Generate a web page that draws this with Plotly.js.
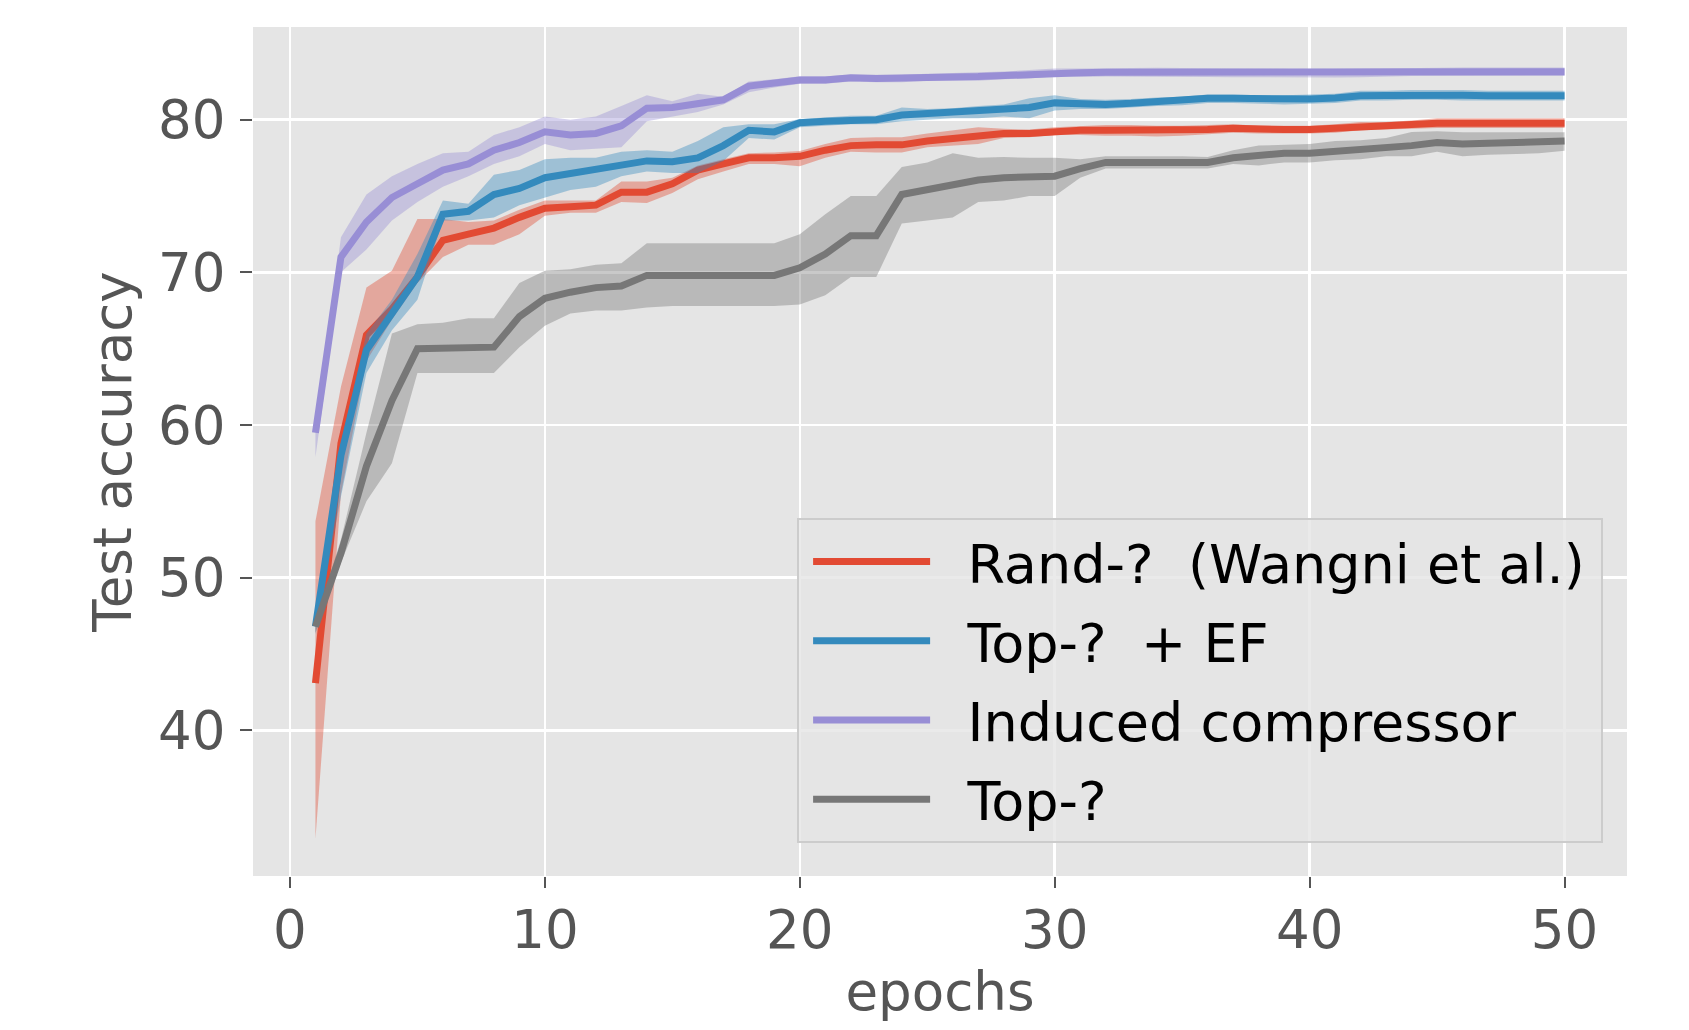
<!DOCTYPE html>
<html>
<head>
<meta charset="utf-8">
<script src="https://cdn.plot.ly/plotly-3.0.1.min.js"></script>
<style>
  html, body { margin: 0; padding: 0; background: #ffffff; }
  #chart { width: 1689px; height: 1030px; }
</style>
</head>
<body>
<div id="chart"></div>
<script>
const epochs = Array.from({length: 50}, (_, i) => i + 1);

const seriesNames = ["Rand-?\u00a0 (Wangni et al.)\u2009", "Top-?\u00a0 + EF", "Induced compressor", "Top-?"];

const randMean = [43.1,58.8,65.9,67.6,69.7,72.1,72.5,72.9,73.6,74.2,74.3,74.4,75.25,75.25,75.8,76.7,77.1,77.5,77.5,77.6,78.0,78.3,78.35,78.35,78.6,78.8,79.0,79.1,79.1,79.25,79.3,79.3,79.3,79.25,79.28,79.35,79.43,79.35,79.35,79.35,79.43,79.6,79.6,79.65,79.76,79.76,79.76,79.76,79.76,79.76];
const randUpper = [53.7,62.5,69.0,70.1,73.5,73.5,73.3,73.4,74.1,74.7,74.7,74.7,75.95,75.95,76.2,77.0,77.4,77.8,77.85,77.95,78.4,78.8,78.85,78.85,79.1,79.3,79.5,79.4,79.35,79.5,79.6,79.65,79.65,79.6,79.6,79.65,79.7,79.6,79.6,79.6,79.7,79.85,79.85,79.95,80.1,80.1,80.1,80.1,80.1,80.1];
const randLower = [32.9,55.5,64.2,66.9,69.3,71.0,71.8,71.8,72.5,73.7,73.9,73.9,74.6,74.55,75.2,76.1,76.6,77.1,77.1,76.95,77.5,77.9,77.85,77.85,78.2,78.3,78.4,78.8,78.85,79.0,79.0,78.95,78.95,78.9,78.95,79.05,79.15,79.1,79.1,79.1,79.15,79.3,79.35,79.4,79.45,79.45,79.45,79.45,79.45,79.45];

const efMean = [46.8,58.0,64.9,67.3,69.7,73.8,74.0,75.1,75.5,76.2,76.5,76.7,77.1,77.3,77.25,77.5,78.3,79.3,79.2,79.8,79.9,80.0,80.0,80.3,80.4,80.45,80.5,80.6,80.8,81.1,81.0,81.0,81.07,81.2,81.24,81.4,81.4,81.35,81.32,81.35,81.42,81.57,81.58,81.62,81.62,81.6,81.57,81.57,81.57,81.57];
const efUpper = [47.3,58.8,66.0,68.2,71.2,74.7,74.5,76.4,76.7,77.4,77.5,77.5,77.9,78.0,77.9,78.6,79.5,79.7,79.7,80.05,80.15,80.25,80.25,80.8,80.7,80.75,80.9,81.0,81.4,81.6,81.35,81.3,81.35,81.45,81.5,81.65,81.65,81.6,81.6,81.65,81.7,81.9,81.9,81.95,81.95,81.95,81.9,81.9,81.9,81.9];
const efLower = [46.3,55.3,63.4,66.2,68.2,73.4,73.4,73.6,74.4,74.9,75.4,75.6,76.3,76.6,76.5,76.5,77.3,78.8,78.7,79.5,79.6,79.7,79.7,79.9,80.0,80.1,80.1,80.2,80.1,80.6,80.7,80.7,80.8,80.9,80.95,81.1,81.1,81.05,81.0,81.05,81.1,81.25,81.25,81.3,81.3,81.25,81.25,81.25,81.25,81.25];

const indMean = [59.5,71.0,73.3,74.9,75.8,76.7,77.1,78.0,78.5,79.2,79.0,79.1,79.6,80.75,80.8,81.1,81.3,82.2,82.4,82.6,82.6,82.75,82.7,82.7,82.78,82.8,82.82,82.9,82.98,83.1,83.08,83.1,83.1,83.12,83.1,83.08,83.06,83.05,83.05,83.03,83.04,83.06,83.12,83.14,83.14,83.14,83.14,83.14,83.14,83.14];
const indUpper = [59.7,72.3,75.1,76.3,77.1,77.8,77.9,79.0,79.5,80.2,80.0,80.2,80.9,81.6,81.2,81.7,81.5,82.5,82.65,82.85,82.85,82.95,82.95,82.95,83.0,83.05,83.1,83.15,83.25,83.35,83.35,83.38,83.38,83.4,83.38,83.36,83.34,83.33,83.33,83.31,83.32,83.34,83.4,83.42,83.42,83.42,83.42,83.42,83.42,83.42];
const indLower = [57.9,70.0,71.5,73.4,74.6,75.6,76.3,77.1,77.6,78.4,78.0,78.1,78.2,79.9,80.2,80.5,81.0,81.8,82.1,82.35,82.35,82.5,82.45,82.45,82.55,82.55,82.55,82.65,82.7,82.85,82.8,82.82,82.82,82.84,82.82,82.8,82.78,82.77,82.77,82.75,82.76,82.78,82.84,82.86,82.86,82.86,82.86,82.86,82.86,82.86];

const topMean = [46.8,51.6,57.3,61.6,65.0,65.0,65.1,65.1,67.1,68.3,68.7,69.0,69.1,69.8,69.8,69.8,69.8,69.8,69.8,70.3,71.2,72.4,72.4,75.1,75.4,75.7,76.05,76.2,76.3,76.3,76.8,77.2,77.2,77.2,77.2,77.2,77.5,77.7,77.8,77.8,77.9,78.0,78.1,78.3,78.5,78.4,78.45,78.5,78.5,78.6];
const topUpper = [47.2,52.5,59.5,66.0,66.6,66.7,67.0,67.0,69.3,70.1,70.2,70.5,70.6,71.9,71.9,71.9,71.9,71.9,71.9,72.5,73.8,75.0,75.0,76.9,77.2,77.8,77.5,77.55,77.5,77.5,77.4,77.6,77.6,77.6,77.6,77.55,78.0,78.3,78.35,78.4,78.6,78.65,78.8,79.2,79.24,79.17,79.17,79.17,79.17,79.17];
const topLower = [46.4,51.0,55.0,57.5,63.4,63.4,63.4,63.4,65.1,66.5,67.3,67.5,67.5,67.7,67.8,67.8,67.8,67.8,67.8,67.9,68.5,69.7,69.7,73.2,73.4,73.6,74.6,74.7,75.0,75.0,76.2,76.8,76.8,76.8,76.8,76.8,77.1,77.0,77.2,77.2,77.35,77.4,77.6,77.6,77.9,77.6,77.7,77.75,77.8,77.97];

const xTicks = [0, 10, 20, 30, 40, 50];
const yTicks = [40, 50, 60, 70, 80];

const colors = ["#E24A33", "#348ABD", "#988ED5", "#777777"];
const bandColors = ["rgba(226,74,51,0.4)", "rgba(52,138,189,0.4)", "rgba(152,142,213,0.4)", "rgba(119,119,119,0.4)"];

const means = [randMean, efMean, indMean, topMean];
const uppers = [randUpper, efUpper, indUpper, topUpper];
const lowers = [randLower, efLower, indLower, topLower];

// gap between legend sample line and its label (matplotlib-like spacing)
const legendPad = "\u2002\u200A";

const traces = [];
for (let i = 0; i < 4; i++) {
  const grp = "g" + i;
  traces.push({
    x: epochs, y: uppers[i], type: "scatter", mode: "lines",
    line: {width: 0, color: bandColors[i]}, showlegend: false,
    legendgroup: grp, hoverinfo: "skip"
  });
  traces.push({
    x: epochs, y: lowers[i], type: "scatter", mode: "lines",
    line: {width: 0, color: bandColors[i]}, fill: "tonexty",
    fillcolor: bandColors[i], showlegend: false,
    legendgroup: grp, hoverinfo: "skip"
  });
  traces.push({
    x: epochs, y: means[i], type: "scatter", mode: "lines",
    name: legendPad + seriesNames[i], legendgroup: grp,
    line: {width: 7, color: colors[i], shape: "linear"}
  });
}

const font = "DejaVu Sans, Verdana, sans-serif";

const layout = {
  width: 1689, height: 1030,
  margin: {l: 253, r: 62, t: 27, b: 154, pad: 0},
  paper_bgcolor: "#ffffff",
  plot_bgcolor: "#E5E5E5",
  font: {family: font, size: 53, color: "#555555"},
  showlegend: true,
  legend: {
    x: 0.396, y: 0.4217, xanchor: "left", yanchor: "top",
    bgcolor: "rgba(229,229,229,0.8)",
    bordercolor: "#CCCCCC", borderwidth: 2,
    font: {family: font, size: 54, color: "#000000"},
    tracegroupgap: 6,
    itemwidth: 117,
    indentation: 9,
    traceorder: "grouped"
  },
  xaxis: {
    range: [-1.45, 52.45],
    tickvals: xTicks, ticktext: xTicks.map(String),
    showgrid: true, gridcolor: "#FFFFFF", gridwidth: 2.5,
    zeroline: false, showline: false,
    ticks: "outside", ticklen: 11, tickwidth: 2, tickcolor: "#555555",
    ticklabelstandoff: -4,
    tickfont: {family: font, size: 53, color: "#555555"},
    title: {text: "epochs", font: {family: font, size: 53, color: "#555555"}, standoff: 14}
  },
  yaxis: {
    range: [30.46, 86.07],
    tickvals: yTicks, ticktext: yTicks.map(String),
    showgrid: true, gridcolor: "#FFFFFF", gridwidth: 2.5,
    zeroline: false, showline: false,
    ticks: "outside", ticklen: 12, tickwidth: 2, tickcolor: "#555555",
    ticklabelstandoff: 4,
    tickfont: {family: font, size: 53, color: "#555555"},
    title: {text: "Test accuracy", font: {family: font, size: 53, color: "#555555"}, standoff: 9}
  }
};

Plotly.newPlot("chart", traces, layout, {staticPlot: true, displayModeBar: false});
</script>
</body>
</html>
